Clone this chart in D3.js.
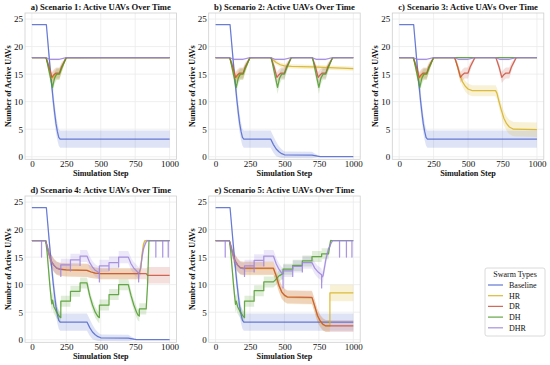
<!DOCTYPE html>
<html><head><meta charset="utf-8">
<script src="https://cdn.jsdelivr.net/npm/d3@7"></script>
<style>body{margin:0;background:#fff}svg{display:block}svg text{font-family:'Liberation Serif','DejaVu Serif',serif !important;fill:#111}</style>
</head><body><svg id="c" width="550" height="365"></svg>
<script>
// ---------- categories / labels ----------
const swarmTypes = ["Baseline","HR","DR","DH","DHR"];
const swarmColors = ["#4f66cc","#d6b21e","#c9503c","#4f9a2c","#9b82dc"];
const panelTitles = ["a) Scenario 1: Active UAVs Over Time","b) Scenario 2: Active UAVs Over Time","c) Scenario 3: Active UAVs Over Time","d) Scenario 4: Active UAVs Over Time","e) Scenario 5: Active UAVs Over Time"];
const xTicks = [0,250,500,750,1000];
const yTicks = [0,5,10,15,20,25];

// ---------- Baseline ----------
const baseX1 = [0,100,105,125,140,155,165,175,185,195,205,1000];
const baseMean1 = [24,24,24,18.2,14,10.2,8,6,4.6,3.5,3.2,3.2];
const baseSd1 = [0,0,0,1.2,1.5,1.8,1.8,1.7,1.6,1.5,1.55,1.55];
const baseX2 = [0,100,105,125,140,155,165,175,185,195,205,400,420,440,460,480,500,700,720,740,760,1000];
const baseMean2 = [24,24,24,18.2,14,10.2,8,6,4.6,3.5,3.2,3.2,2.2,1.4,0.9,0.55,0.35,0.3,0.2,0.1,0.03,0];
const baseSd2 = [0,0,0,1.2,1.5,1.8,1.8,1.7,1.6,1.5,1.55,1.55,1.5,1.3,1.0,0.8,0.6,0.6,0.4,0.2,0.05,0];

// ---------- Scenario 1 ----------
const s1DipX = [0,100,105,125,145,160,175,200,215,250,1000];
const s1HR = [18,18,17.8,16,14.2,14.6,15,15,16,18,18];
const s1HRsd = [0,0,0.2,0.8,1,1,1,1,0.8,0.1,0];
const s1DR = [18,18,17.8,16.3,14.4,14.9,15.2,15.2,16.3,18,18];
const s1DRsd = [0,0,0.2,0.8,1,1,1,1,0.8,0.1,0];
const s1DHX = [0,100,105,125,150,165,180,200,215,250,1000];
const s1DH = [18,18,17.8,15.5,12.6,14.3,15,15,16,18,18];
const s1DHsd = [0,0,0.2,1,1.2,1.1,1,1,0.8,0.1,0];
const s1DHRX = [0,100,130,200,250,1000];
const s1DHR = [18,18,17.7,17.7,18,18];
const s1DHRsd = [0,0,0.2,0.2,0,0];

// ---------- Scenario 2 ----------
const s2HRX = [0,100,105,125,145,160,175,200,215,250,400,420,440,470,500,550,700,1000];
const s2HR = [18,18,17.8,16,14.2,14.6,15,15,16,18,18,17.5,17.1,16.7,16.5,16.4,16.3,16.0];
const s2HRsd = [0,0,0.2,0.8,1,1,1,1,0.8,0.1,0,0.3,0.4,0.4,0.4,0.4,0.4,0.4];
const s2DRX = [0,100,105,125,145,160,175,200,215,250,400,405,425,445,460,475,500,515,550,700,705,725,745,760,775,800,815,850,1000];
const s2DR = [18,18,17.8,16.3,14.4,14.9,15.2,15.2,16.3,18,18,17.8,16.3,14.4,14.9,15.2,15.2,16.3,18,18,17.8,16.3,14.4,14.9,15.2,15.2,16.3,18,18];
const s2DRsd = [0,0,0.2,0.8,1,1,1,1,0.8,0.1,0,0.2,0.8,1,1,1,1,0.8,0.1,0,0.2,0.8,1,1,1,1,0.8,0.1,0];
const s2DHX = [0,100,105,125,150,165,180,200,215,250,400,405,425,450,465,480,500,515,550,700,705,725,750,765,780,800,815,850,1000];
const s2DH = [18,18,17.8,15.5,12.6,14.3,15,15,16,18,18,17.8,15.5,12.6,14.3,15,15,16,18,18,17.8,15.5,12.6,14.3,15,15,16,18,18];
const s2DHsd = [0,0,0.2,1,1.2,1.1,1,1,0.8,0.1,0,0.2,1,1.2,1.1,1,1,0.8,0.1,0,0.2,1,1.2,1.1,1,1,0.8,0.1,0];
const s2DHRX = [0,100,130,200,250,400,430,500,550,700,730,800,850,1000];
const s2DHR = [18,18,17.7,17.7,18,18,17.7,17.7,18,18,17.7,17.7,18,18];
const s2DHRsd = [0,0,0.2,0.2,0,0,0.2,0.2,0,0,0.2,0.2,0,0];

// ---------- Scenario 3 ----------
const s3HRX = [0,100,105,125,145,160,175,200,215,250,400,410,425,440,460,480,500,530,700,710,725,740,760,780,800,830,1000];
const s3HR = [18,18,17.8,16,14.2,14.6,15,15,16,18,18,17.6,16.2,14.9,13.6,12.8,12.3,12,12,11.5,10,8.6,7,6,5.4,5,4.9];
const s3HRsd = [0,0,0.2,0.8,1,1,1,1,0.8,0.1,0,0.3,0.6,0.8,0.9,1,1,1,1,1,1.1,1.2,1.3,1.3,1.3,1.3,1.3];

// ---------- Scenario 4 ----------
const s4HRX = [0,100,110,125,140,160,180,200,250,400,430,460,500,780,790,800,810,820,1000];
const s4HR = [18,18,17,15.5,14.3,13.5,13,12.8,12.7,12.6,12.3,12.1,12,12,13,15.5,17.3,18,18];
const s4HRsd = [0,0,0.6,1,1.2,1.2,1.2,1.2,1.2,1.2,1.1,1,1,1,1,1,0.6,0,0];
const s4DRX = [0,100,110,125,140,160,180,200,250,400,430,460,500,830,840,1000];
const s4DR = [18,18,17,15.5,14.3,13.5,13,12.8,12.7,12.6,12.3,12.1,12,12,11.7,11.7];
const s4DRsd = [0,0,0.6,1,1.2,1.2,1.2,1.2,1.2,1.2,1.1,1,1,1,1.5,1.5];
const s4DHX = [0,100,110,120,130,140,145,150,160,180,200,210,210,280,280,350,350,400,420,440,460,480,490,490,560,560,630,630,700,720,740,760,770,780,780,830,840,850,1000];
const s4DH = [18,18,16,13,10,7.5,6.5,7.2,6,5,4.2,4,7,7,8.8,8.8,10.3,10.3,8,6.3,5,4.2,4,6.3,6.3,8.2,8.2,10,10,8,6.3,5,4.5,4.3,5.6,5.6,10,18,18];
const s4DHsd = [0,0,0.8,1.2,1.5,1.5,1.5,1.5,1.3,1.1,1,1,1,1,1,1,1,1,1,1,1,1,1,1,1,1,1,1,1,1,1,1,1,1,1,1,1,0,0];
const s4DHRX = [0,70,70,70,100,110,125,140,160,180,200,210,210,210,280,280,280,350,350,350,400,420,440,460,480,490,490,490,560,560,560,630,630,630,700,720,740,760,770,775,775,775,790,800,810,820,830,840,900,900,900,950,950,950,990,990,990,1000];
const s4DHR = [18,18,15,18,18,17,15.5,14.3,13.5,13,12.9,12.9,11.5,13.6,13.6,12.5,14.5,14.5,13.5,15.2,15.2,14,13.2,12.6,12.3,12.2,10.5,13.4,13.4,12.6,14,14,13.2,15,15,13.8,13,12.5,12.2,12.1,10.5,12,13,15,16.5,17.2,17.8,18,18,15,18,18,15,18,18,15,18,18];
const s4DHRsd = [0,0,0,0,0,0.6,1,1.1,1.1,1.1,1.1,1.1,1.1,1.1,1.1,1.1,1.1,1.1,1.1,1.1,1.1,1.1,1.1,1.1,1.1,1.1,1.1,1.1,1.1,1.1,1.1,1.1,1.1,1.1,1.1,1.1,1.1,1.1,1.1,1.1,1.1,1.1,1.1,1,0.8,0.6,0.4,0.2,0,0,0,0,0,0,0,0,0,0];

// ---------- Scenario 5 ----------
const s5HRX = [0,100,110,125,140,160,180,200,420,440,460,480,500,520,700,720,740,760,780,800,830,830,1000];
const s5HR = [18,18,17,15.5,14.3,13.5,13,12.9,12.9,11.5,9.8,8.6,8,7.7,7.6,6,4.3,3.3,2.7,2.5,2.5,8.5,8.5];
const s5HRsd = [0,0,0.6,1,1.2,1.2,1.2,1.2,1.2,1.2,1.2,1.2,1.2,1.2,1.2,1.2,1.2,1.1,1.1,1.1,1.1,1.5,1.5];
const s5DRX = [0,100,110,125,140,160,180,200,420,440,460,480,500,520,700,720,740,760,780,800,1000];
const s5DR = [18,18,17.1,15.6,14.4,13.6,13.1,13,13,11.6,9.9,8.7,8.1,7.8,7.7,6.1,4.4,3.4,2.8,2.5,2.5];
const s5DRsd = [0,0,0.6,1,1.2,1.2,1.2,1.2,1.2,1.2,1.2,1.2,1.2,1.2,1.2,1.2,1.2,1.1,1.1,1.1,1.1];
const s5DHX = [0,100,110,120,130,140,145,150,160,180,200,210,210,280,280,350,350,420,440,460,490,490,560,560,630,630,700,700,770,770,820,835,850,1000];
const s5DH = [18,18,16,13,10,7.5,6.4,7,6,5,4.3,4,7,7,8.9,8.9,10.5,10.5,11,11.6,12,12.8,12.8,13.5,13.5,14.3,14.3,15.1,15.1,15.6,15.6,18,18,18];
const s5DHsd = [0,0,0.8,1.2,1.5,1.5,1.5,1.5,1.3,1.1,1,1,1,1,1,1,1,1,1,1,1,1,1,1,1,1,1,1,1,1,1,0.3,0,0];
const s5DHRX = [0,70,70,70,100,110,125,140,160,180,200,210,210,210,280,280,280,350,350,350,420,440,460,480,490,490,490,560,560,560,630,630,630,700,720,740,760,770,770,770,780,790,800,810,820,830,840,850,900,900,900,950,950,950,990,990,990,1000];
const s5DHR = [18,18,15,18,18,17,15.5,14.3,13.5,13,12.9,12.9,11.5,13.4,13.4,12.3,14.4,14.4,13.4,15.2,15.2,13.8,12.8,12.1,12,9.4,12.5,12.5,11.5,13.3,13.3,12.3,14,14,13,12.4,12,11.8,9.4,11.3,11.6,13,14.5,15.5,16.5,17,17.6,18,18,15,18,18,15,18,18,15,18,18];
const s5DHRsd = [0,0,0,0,0,0.6,1,1.1,1.1,1.1,1.1,1.1,1.1,1.1,1.1,1.1,1.1,1.1,1.1,1.1,1.1,1.1,1.1,1.1,1.1,1.1,1.1,1.1,1.1,1.1,1.1,1.1,1.1,1.1,1.1,1.1,1.1,1.1,1.1,1.1,1.1,1.1,1,0.8,0.6,0.4,0.2,0,0,0,0,0,0,0,0,0,0,0];

// ---------- assemble ----------
function ser(x, m, s){ return x.map((v,i)=>({x:v, m:m[i], s:s[i]})); }
const scenarios = [
  [ser(baseX1,baseMean1,baseSd1), ser(s1DipX,s1HR,s1HRsd), ser(s1DipX,s1DR,s1DRsd), ser(s1DHX,s1DH,s1DHsd), ser(s1DHRX,s1DHR,s1DHRsd)],
  [ser(baseX2,baseMean2,baseSd2), ser(s2HRX,s2HR,s2HRsd), ser(s2DRX,s2DR,s2DRsd), ser(s2DHX,s2DH,s2DHsd), ser(s2DHRX,s2DHR,s2DHRsd)],
  [ser(baseX1,baseMean1,baseSd1), ser(s3HRX,s3HR,s3HRsd), ser(s2DRX,s2DR,s2DRsd), ser(s1DHX,s1DH,s1DHsd), ser(s2DHRX,s2DHR,s2DHRsd)],
  [ser(baseX2,baseMean2,baseSd2), ser(s4HRX,s4HR,s4HRsd), ser(s4DRX,s4DR,s4DRsd), ser(s4DHX,s4DH,s4DHsd), ser(s4DHRX,s4DHR,s4DHRsd)],
  [ser(baseX1,baseMean1,baseSd1), ser(s5HRX,s5HR,s5HRsd), ser(s5DRX,s5DR,s5DRsd), ser(s5DHX,s5DH,s5DHsd), ser(s5DHRX,s5DHR,s5DHRsd)]
];

const svg = d3.select("#c");
const W = 151.5, H = 146.3;
const lefts = [25, 208.7, 392.3];
const tops = [13, 196];
const FONT = "'Liberation Serif','DejaVu Serif',serif";

scenarios.forEach((series, pi) => {
  const col = pi % 3, row = Math.floor(pi / 3);
  const x0 = lefts[col], y0 = tops[row];
  const xs = d3.scaleLinear().domain([-50,1050]).range([x0, x0+W]);
  const ys = d3.scaleLinear().domain([-0.47, 26.1]).range([y0+H, y0]);
  const g = svg.append("g");
  const clipId = "clip"+pi;
  g.append("clipPath").attr("id",clipId).append("rect").attr("x",x0).attr("y",y0).attr("width",W).attr("height",H);
  // grid
  g.selectAll(".gx").data(xTicks).join("line").attr("x1",d=>xs(d)).attr("x2",d=>xs(d)).attr("y1",y0).attr("y2",y0+H).attr("stroke","#ebebeb").attr("stroke-width",0.8);
  g.selectAll(".gy").data(yTicks).join("line").attr("y1",d=>ys(d)).attr("y2",d=>ys(d)).attr("x1",x0).attr("x2",x0+W).attr("stroke","#ebebeb").attr("stroke-width",0.8);
  const plot = g.append("g").attr("clip-path","url(#"+clipId+")");
  const area = d3.area().x(d=>xs(d.x)).y0(d=>ys(d.m-d.s)).y1(d=>ys(d.m+d.s));
  const line = d3.line().x(d=>xs(d.x)).y(d=>ys(d.m));
  series.forEach((s,k)=>{
    plot.append("path").datum(s).attr("d",area).attr("fill",swarmColors[k]).attr("fill-opacity",0.18).attr("stroke","none");
  });
  series.forEach((s,k)=>{
    plot.append("path").datum(s).attr("d",line).attr("fill","none").attr("stroke",swarmColors[k]).attr("stroke-width",1.25).attr("stroke-opacity",0.85).attr("stroke-linejoin","round");
  });
  // frame
  g.append("rect").attr("x",x0).attr("y",y0).attr("width",W).attr("height",H).attr("fill","none").attr("stroke","#cfcfcf").attr("stroke-width",0.8);
  // axes
  const ax = g.append("g").attr("transform",`translate(0,${y0+H})`).call(d3.axisBottom(xs).tickValues(xTicks).tickFormat(d3.format("d")).tickSize(0).tickPadding(1.5));
  const ay = g.append("g").attr("transform",`translate(${x0},0)`).call(d3.axisLeft(ys).tickValues(yTicks).tickFormat(d3.format("d")).tickSize(0).tickPadding(2));
  [ax,ay].forEach(a=>{a.attr("font-family",FONT); a.select(".domain").remove(); a.selectAll("text").attr("font-size",9).attr("fill","#111");});
  // labels
  g.append("text").attr("x",x0+W/2).attr("y",y0-3.5).attr("text-anchor","middle").attr("font-size",8.6).attr("font-weight","bold").text(panelTitles[pi]);
  g.append("text").attr("x",x0+W/2).attr("y",y0+H+17).attr("text-anchor","middle").attr("font-size",8.2).attr("font-weight","bold").text("Simulation Step");
  g.append("text").attr("transform",`translate(${x0-14},${y0+H/2}) rotate(-90)`).attr("text-anchor","middle").attr("font-size",8).attr("font-weight","bold").text("Number of Active UAVs");
});

// legend
const lg = svg.append("g");
lg.append("rect").attr("x",485).attr("y",268).attr("width",60).attr("height",68).attr("rx",2).attr("fill","#fff").attr("stroke","#d0d0d0").attr("stroke-width",0.8);
lg.append("text").attr("x",515).attr("y",277).attr("text-anchor","middle").attr("font-size",8).text("Swarm Types");
swarmTypes.forEach((t,i)=>{
  const yy = 285 + i*10.7;
  lg.append("line").attr("x1",488).attr("x2",503).attr("y1",yy).attr("y2",yy).attr("stroke",swarmColors[i]).attr("stroke-width",1.25).attr("stroke-opacity",0.85);
  lg.append("text").attr("x",509).attr("y",yy+2.8).attr("font-size",8).text(t);
});
</script></body></html>
